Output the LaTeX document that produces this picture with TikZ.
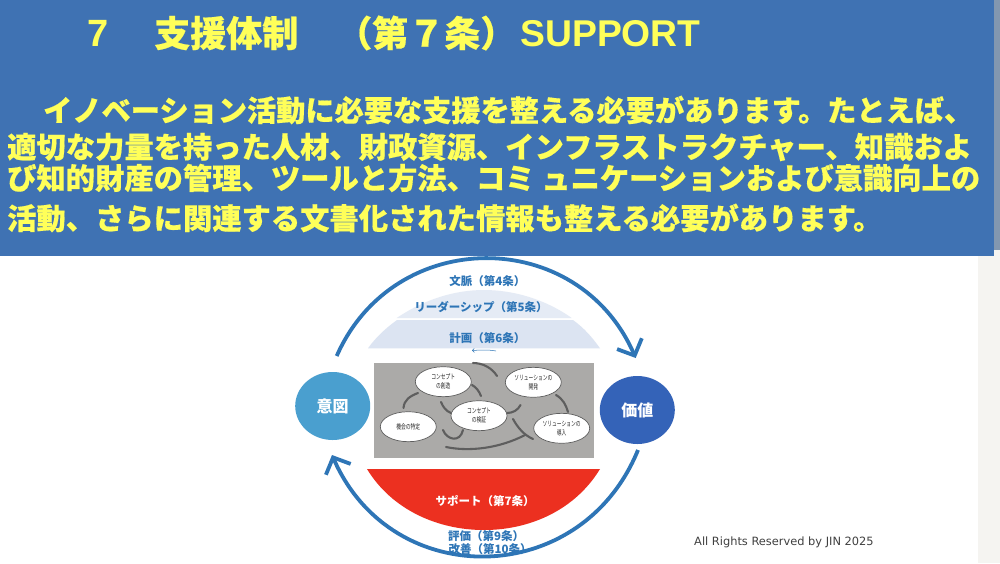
\documentclass[tikz,border=0pt]{standalone}
\usepackage{fontspec}
\setmainfont{Noto Sans CJK JP}
\newfontfamily\heavy{Noto Sans CJK JP}[BoldFeatures={FakeBold=0.5}]
\newfontfamily\latinbold{Liberation Sans}
\newfontfamily\rights{DejaVu Sans}
\usetikzlibrary{arrows.meta,shapes.geometric}
\definecolor{headblue}{HTML}{3F72B3}
\definecolor{headyellow}{HTML}{FFFF59}
\definecolor{cycleblue}{HTML}{2E75B6}
\definecolor{capblue}{HTML}{DCE4F2}
\definecolor{capred}{HTML}{EC3020}
\definecolor{panelgrey}{HTML}{ABAAA8}
\definecolor{flowgrey}{HTML}{5E5E5E}
\definecolor{stripgrey}{HTML}{F5F4F1}
\definecolor{stripblue}{HTML}{8297B0}
\definecolor{intentblue}{HTML}{4A9FCF}
\definecolor{valueblue}{HTML}{3463B8}
\newcommand{\narrowtext}[1]{\scalebox{.68}[1]{#1}}
\tikzset{
  headline/.style={anchor=west,inner sep=0pt,text=headyellow,font=\heavy\bfseries},
  label/.style={inner sep=0pt,text=cycleblue,font=\bfseries\fontsize{11.5}{12}\selectfont},
  bubble/.style={ellipse,draw=flowgrey,line width=.7pt,fill=white,inner sep=0pt,minimum width=56pt,minimum height=30pt,align=center,text=black!85,font=\fontsize{7}{9}\selectfont},
  goal/.style={ellipse,inner sep=0pt,minimum width=75pt,minimum height=68pt,text=white,font=\bfseries\fontsize{16}{17}\selectfont},
  cycle/.style={draw=cycleblue,line width=3.8pt,-{Straight Barb[length=13pt,width=27pt,line width=3.8pt]}},
  flow/.style={draw=flowgrey,line width=2.1pt,line cap=round},
}
\begin{document}
\begin{tikzpicture}[x=1pt,y=-1pt]
\useasboundingbox (0,0) rectangle (1000,563);
\fill[white] (0,0) rectangle (1000,563);
\fill[stripgrey] (978,250) rectangle (1000,563);
\fill[stripblue] (990,0) rectangle (1000,250);
\fill[headblue] (0,0) rectangle (994,256);
% header text
\node[headline] (title) at (87,33) {\fontsize{36}{37}\selectfont{\latinbold\fontsize{38}{38}\selectfont 7}\hspace{46pt}支援体制\hspace{38pt}（第７条）{\latinbold\fontsize{37.3}{38}\selectfont\hspace{4pt}SUPPORT}};
\node[headline] (bodya) at (43,110) {\fontsize{29.2}{30}\selectfont イノベーション活動に必要な支援を整える必要があります。たとえば、};
\node[headline] (bodyb) at (7,147) {\fontsize{29.3}{31}\selectfont 適切な力量を持った人材、財政資源、インフラストラクチャー、知識およ};
\node[headline] (bodyc) at (7,178) {\fontsize{29.3}{30}\selectfont び知的財産の管理、ツールと方法、コミ ュニケーションおよび意識向上の};
\node[headline] (bodyd) at (7,218) {\fontsize{29.3}{30}\selectfont 活動、さらに関連する文書化された情報も整える必要があります。};
% layered caps
\path[fill=capblue!75] (396.7,318) .. controls (425,299) and (455,290) .. (484,290) .. controls (513,290) and (545,299) .. (571.7,318) -- cycle;
\path[fill=capblue] (368,348.3) .. controls (376,337) and (386,328) .. (397,320) -- (573,320) .. controls (584,328) and (592,337) .. (600,348.3) -- cycle;
\path[fill=capred] (367,469) .. controls (392,510) and (438,530) .. (484,530) .. controls (530,530) and (575,510) .. (600,469) -- cycle;
% panel
\fill[panelgrey] (374,363) rectangle (594,458);
% goals
\node[goal,fill=intentblue] (intent) at (332.7,406) {意図};
\node[goal,fill=valueblue] (value) at (637.3,410) {価値};
% flow ends
\coordinate (fa) at (403.5,408);
\coordinate (fb) at (418,393);
\coordinate (fc) at (473,363);
\coordinate (fd) at (497,376);
\coordinate (fe) at (472,385);
\coordinate (ff) at (481,396);
\coordinate (fg) at (441,402);
\coordinate (fh) at (451,413);
\coordinate (fi) at (507,413);
\coordinate (fj) at (520.5,405);
\coordinate (fk) at (556,395);
\coordinate (fl) at (568,412);
\coordinate (fm) at (513,419);
\coordinate (fn) at (533,439);
\coordinate (fo) at (443,430);
\coordinate (fp) at (463,430);
\coordinate (fq) at (446,447);
\coordinate (fr) at (525,435);
\draw[flow] (fa) .. controls (404,400) and (410,396) .. (fb);
\draw[flow] (fc) .. controls (483,363) and (492,368) .. (fd);
\draw[flow] (fe) .. controls (476,387) and (479,391) .. (ff);
\draw[flow] (fg) .. controls (443,407) and (446,411) .. (fh);
\draw[flow] (fi) .. controls (513,413) and (518,410) .. (fj);
\draw[flow] (fk) .. controls (563,399) and (566,405) .. (fl);
\draw[flow] (fm) .. controls (518,428) and (524,435) .. (fn);
\draw[flow] (fo) .. controls (447,440) and (460,443) .. (fp);
\draw[flow] (fq) .. controls (470,452) and (500,448) .. (fr);
% bubbles
\node[bubble] (create) at (443.3,381.7) {\narrowtext{コンセプト}\\\narrowtext{の創造}};
\node[bubble] (develop) at (533.3,382.3) {\narrowtext{ソリューションの}\\\narrowtext{開発}};
\node[bubble] (verify) at (479,415.7) {\narrowtext{コンセプト}\\\narrowtext{の検証}};
\node[bubble] (identify) at (408.3,426.7) {\narrowtext{機会の特定}};
\node[bubble] (deploy) at (561.7,428.3) {\narrowtext{ソリューションの}\\\narrowtext{導入}};
% small stroke
\coordinate (pa) at (496,351);
\coordinate (pb) at (472,350.5);
\draw[cycleblue,line width=.5pt,-{Straight Barb[length=2pt,width=4pt]}] (pa) .. controls (488,349.5) and (480,350) .. (pb);
% labels
\node[label] (ctx) at (487.3,281) {文脈（第4条）};
\node[label] (lead) at (481,306.7) {リーダーシップ（第5条）};
\node[label] (plan) at (487.3,338) {計画（第6条）};
\node[label,text=white] (supp) at (485,500.7) {サポート（第7条）};
\node[label] (eval) at (486,536) {評価（第9条）};
\node[label] (impr) at (490,549) {改善（第10条）};
% cycle
\coordinate (ta) at (336.7,356);
\coordinate (tb) at (635.7,358);
\coordinate (ba) at (638,450);
\coordinate (bb) at (332,455);
\draw[cycle] (ta) .. controls (394.2,225.7) and (578,226) .. (tb);
\draw[cycle] (ba) .. controls (581.3,589) and (392,592) .. (bb);
\node[anchor=west,inner sep=0pt,text=black!75,font=\rights\fontsize{11.4}{12}\selectfont] (rights) at (694,542) {All Rights Reserved by JIN 2025};
\end{tikzpicture}
\end{document}
